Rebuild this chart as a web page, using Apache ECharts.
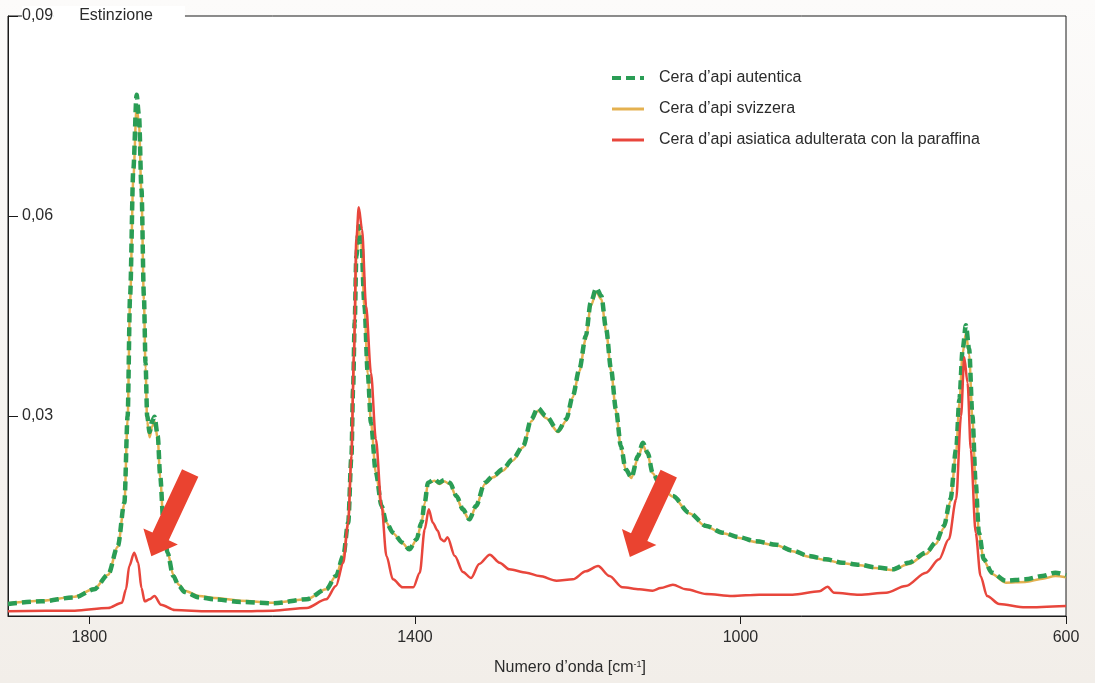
<!DOCTYPE html>
<html>
<head>
<meta charset="utf-8">
<script src="https://cdn.jsdelivr.net/npm/echarts@6/dist/echarts.min.js"></script>
<style>
  html, body { margin: 0; padding: 0; }
  #chart { width: 1095px; height: 683px; }
</style>
</head>
<body>
<div id="chart"></div>
<script>
// numeri d'onda (cm-1) per cera autentica e svizzera
const wnPura = [1900, 1859, 1818, 1794, 1777, 1765, 1757, 1753, 1750, 1746, 1742, 1739, 1736, 1733, 1731, 1729, 1726, 1723, 1720, 1716, 1713, 1709, 1704, 1697, 1690, 1683, 1665, 1646, 1614, 1574, 1533, 1509, 1497, 1488, 1482, 1478, 1476, 1474, 1472, 1469, 1466, 1462, 1458, 1454, 1448, 1441, 1435, 1427, 1415, 1407, 1398, 1392, 1388, 1384, 1376, 1370, 1364, 1357, 1349, 1341, 1333, 1325, 1314, 1304, 1292, 1280, 1267, 1257, 1249, 1239, 1224, 1214, 1206, 1198, 1190, 1184, 1177, 1171, 1165, 1159, 1153, 1147, 1141, 1134, 1126, 1120, 1114, 1108, 1098, 1083, 1063, 1042, 1022, 1001, 981, 956, 936, 916, 895, 875, 854, 834, 813, 793, 772, 760, 750, 742, 735, 731, 727, 723, 719, 715, 711, 707, 701, 691, 674, 650, 629, 613, 600]
const autentica = [0.0018, 0.0022, 0.0028, 0.0040, 0.0062, 0.0105, 0.0170, 0.0300, 0.0480, 0.0670, 0.0782, 0.0750, 0.0640, 0.0480, 0.0380, 0.0300, 0.0276, 0.0292, 0.0299, 0.0270, 0.0210, 0.0140, 0.0095, 0.0060, 0.0045, 0.0036, 0.0028, 0.0025, 0.0021, 0.0019, 0.0025, 0.0040, 0.0060, 0.0090, 0.0140, 0.0240, 0.0340, 0.0440, 0.0540, 0.0585, 0.0565, 0.0465, 0.0365, 0.0290, 0.0215, 0.0165, 0.0140, 0.0125, 0.0110, 0.0100, 0.0115, 0.0140, 0.0170, 0.0200, 0.0205, 0.0200, 0.0204, 0.0200, 0.0180, 0.0160, 0.0145, 0.0165, 0.0200, 0.0210, 0.0220, 0.0235, 0.0255, 0.0295, 0.0312, 0.0300, 0.0278, 0.0295, 0.0330, 0.0370, 0.0420, 0.0470, 0.0492, 0.0480, 0.0430, 0.0370, 0.0310, 0.0255, 0.0220, 0.0208, 0.0240, 0.0260, 0.0245, 0.0215, 0.0195, 0.0180, 0.0155, 0.0135, 0.0125, 0.0118, 0.0112, 0.0107, 0.0098, 0.0090, 0.0085, 0.0080, 0.0077, 0.0073, 0.0070, 0.0080, 0.0095, 0.0110, 0.0135, 0.0175, 0.0250, 0.0325, 0.0400, 0.0436, 0.0400, 0.0300, 0.0200, 0.0125, 0.0085, 0.0065, 0.0053, 0.0055, 0.0060, 0.0065, 0.0061]
const svizzera = [0.0019, 0.0023, 0.0029, 0.0041, 0.0062, 0.0104, 0.0168, 0.0296, 0.0472, 0.0656, 0.0764, 0.0738, 0.0632, 0.0474, 0.0372, 0.0292, 0.0268, 0.0284, 0.0292, 0.0266, 0.0208, 0.0140, 0.0096, 0.0062, 0.0047, 0.0038, 0.0030, 0.0027, 0.0023, 0.0020, 0.0025, 0.0040, 0.0060, 0.0090, 0.0140, 0.0240, 0.0338, 0.0436, 0.0534, 0.0580, 0.0560, 0.0462, 0.0364, 0.0290, 0.0215, 0.0165, 0.0140, 0.0124, 0.0109, 0.0099, 0.0114, 0.0139, 0.0169, 0.0199, 0.0203, 0.0198, 0.0202, 0.0198, 0.0178, 0.0158, 0.0144, 0.0164, 0.0198, 0.0208, 0.0218, 0.0233, 0.0253, 0.0292, 0.0308, 0.0297, 0.0276, 0.0293, 0.0328, 0.0367, 0.0416, 0.0465, 0.0486, 0.0475, 0.0427, 0.0368, 0.0308, 0.0254, 0.0219, 0.0207, 0.0237, 0.0256, 0.0242, 0.0214, 0.0194, 0.0179, 0.0154, 0.0134, 0.0124, 0.0117, 0.0111, 0.0106, 0.0097, 0.0089, 0.0084, 0.0079, 0.0076, 0.0072, 0.0069, 0.0078, 0.0093, 0.0108, 0.0132, 0.0172, 0.0246, 0.0320, 0.0394, 0.0424, 0.0392, 0.0296, 0.0198, 0.0124, 0.0083, 0.0063, 0.0050, 0.0051, 0.0056, 0.0060, 0.0058]

// numeri d'onda per la cera asiatica adulterata
const wnAsia = [1900, 1818, 1777, 1760, 1755, 1751, 1745, 1740, 1736, 1732, 1726, 1720, 1712, 1695, 1654, 1614, 1574, 1533, 1509, 1497, 1488, 1482, 1478, 1475, 1472, 1469, 1465, 1460, 1454, 1448, 1441, 1435, 1427, 1415, 1402, 1394, 1388, 1383, 1378, 1372, 1368, 1364, 1360, 1351, 1341, 1331, 1321, 1308, 1296, 1284, 1263, 1247, 1226, 1206, 1190, 1175, 1161, 1145, 1124, 1108, 1098, 1083, 1067, 1042, 1010, 977, 936, 903, 893, 885, 854, 821, 797, 772, 756, 744, 735, 729, 725, 721, 717, 711, 705, 697, 682, 650, 600]
const asiatica = [0.0007, 0.0008, 0.0012, 0.0020, 0.0040, 0.0075, 0.0095, 0.0080, 0.0042, 0.0022, 0.0025, 0.0030, 0.0017, 0.0009, 0.0007, 0.0007, 0.0008, 0.0012, 0.0025, 0.0045, 0.0080, 0.0140, 0.0240, 0.0390, 0.0565, 0.0613, 0.0580, 0.0465, 0.0365, 0.0265, 0.0165, 0.0090, 0.0055, 0.0043, 0.0043, 0.0065, 0.0130, 0.0160, 0.0140, 0.0128, 0.0115, 0.0112, 0.0118, 0.0090, 0.0066, 0.0057, 0.0078, 0.0092, 0.0080, 0.0070, 0.0065, 0.0060, 0.0053, 0.0055, 0.0067, 0.0075, 0.0060, 0.0043, 0.0040, 0.0038, 0.0042, 0.0047, 0.0040, 0.0033, 0.0030, 0.0032, 0.0032, 0.0037, 0.0044, 0.0035, 0.0032, 0.0035, 0.0045, 0.0065, 0.0085, 0.0115, 0.0175, 0.0300, 0.0388, 0.0350, 0.0250, 0.0125, 0.0060, 0.0030, 0.0018, 0.0013, 0.0015]

// frecce rosse: [numero d'onda, estinzione] del centro
const frecce = [[1700, 0.0152], [1112, 0.0151]]

const nomi = ['Cera d’api autentica', 'Cera d’api svizzera', 'Cera d’api asiatica adulterata con la paraffina']

const font = 'Liberation Sans'
const chart = echarts.init(document.getElementById('chart'))

const arrowPath = 'path://M10,0 L28,0 L28,70 L38,70 L19,92 L0,70 L10,70 Z'

const option = {
  animation: false,
  backgroundColor: {
    type: 'linear', x: 0, y: 0, x2: 0, y2: 1,
    colorStops: [
      { offset: 0, color: '#fcfbfa' },
      { offset: 1, color: '#f2eee9' }
    ]
  },
  textStyle: { fontFamily: font },
  grid: {
    left: 8, right: 29, top: 16, bottom: 67,
    containLabel: false,
    outerBoundsMode: 'none',
    show: true,
    backgroundColor: '#ffffff',
    borderColor: '#1a1a1a',
    borderWidth: 1
  },
  legend: {
    data: [
      { name: nomi[0], lineStyle: { width: 4 } },
      { name: nomi[1], lineStyle: { width: 3 } },
      { name: nomi[2], lineStyle: { width: 3 } }
    ],
    orient: 'vertical',
    left: 605,
    top: 65,
    itemWidth: 32,
    itemHeight: 14,
    itemGap: 15,
    itemStyle: { opacity: 0 },
    textStyle: { fontSize: 16, color: '#2b2b2b', padding: [0, 0, 0, 10] }
  },
  xAxis: {
    type: 'value',
    min: 600,
    max: 1900,
    interval: 400,
    inverse: true,
    name: 'Numero d’onda [cm{sup|-1}]',
    nameLocation: 'middle',
    nameGap: 44,
    nameTextStyle: {
      fontSize: 16,
      color: '#2b2b2b',
      padding: [0, 0, 0, 66],
      rich: {
        sup: { fontSize: 9, verticalAlign: 'top', color: '#2b2b2b' }
      }
    },
    axisLine: { lineStyle: { color: '#1a1a1a', width: 1 } },
    axisTick: { length: 8, lineStyle: { color: '#1a1a1a' } },
    axisLabel: {
      fontSize: 16,
      color: '#2b2b2b',
      margin: 14,
      showMaxLabel: false,
      formatter: v => (v === 1900 ? '' : String(v))
    },
    splitLine: { show: false }
  },
  yAxis: {
    type: 'value',
    min: 0,
    max: 0.09,
    interval: 0.03,
    axisLine: { show: true, lineStyle: { color: '#1a1a1a', width: 1 } },
    axisTick: { show: true, inside: true, length: 10, lineStyle: { color: '#1a1a1a' } },
    axisLabel: {
      inside: true,
      margin: 14,
      formatter: function (v) {
        const k = Math.round(v * 100)
        if (k === 0) return ''
        const s = '0,0' + k
        if (k === 9) return '{v|' + s + '}{n|Estinzione}'
        return '{v|' + s + '}'
      },
      rich: {
        v: { fontSize: 16, color: '#2b2b2b', backgroundColor: '#ffffff', padding: [2, 0, 2, 0] },
        n: { fontSize: 16, color: '#2b2b2b', backgroundColor: '#ffffff', padding: [2, 32, 2, 26] }
      }
    },
    splitLine: { show: false }
  },
  series: [
    {
      name: nomi[1],
      type: 'line',
      symbol: 'none',
      smooth: 0.3,
      smoothMonotone: 'x',
      z: 2,
      data: wnPura.map((w, i) => [w, svizzera[i]]),
      itemStyle: { color: '#e4b150' },
      lineStyle: { color: '#e4b150', width: 2.5 }
    },
    {
      name: nomi[0],
      type: 'line',
      symbol: 'none',
      smooth: 0.3,
      smoothMonotone: 'x',
      z: 3,
      data: wnPura.map((w, i) => [w, autentica[i]]),
      itemStyle: { color: '#2a9d55' },
      lineStyle: { color: '#2a9d55', width: 4.5, type: [9, 5] }
    },
    {
      name: nomi[2],
      type: 'line',
      symbol: 'none',
      smooth: 0.3,
      smoothMonotone: 'x',
      z: 4,
      data: wnAsia.map((w, i) => [w, asiatica[i]]),
      itemStyle: { color: '#e8463c' },
      lineStyle: { color: '#e8463c', width: 2.5 },
      markPoint: {
        silent: true,
        symbol: arrowPath,
        symbolSize: [38, 92],
        symbolRotate: -25,
        label: { show: false },
        itemStyle: { color: '#ea4330', opacity: 1 },
        data: frecce.map(c => ({ coord: c }))
      }
    }
  ]
}

chart.setOption(option)
</script>
</body>
</html>
